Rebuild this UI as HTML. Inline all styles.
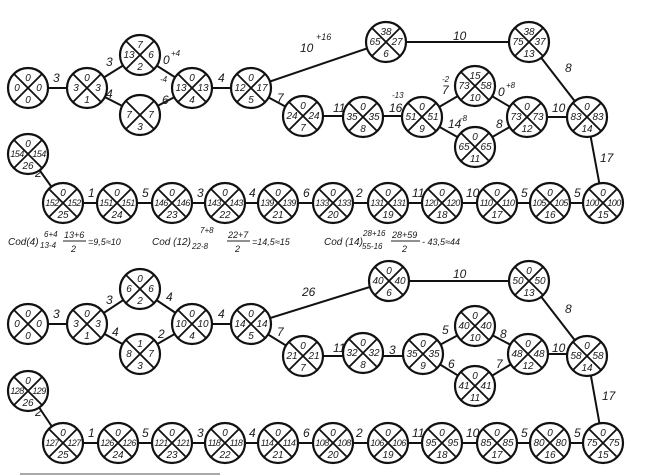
<!DOCTYPE html>
<html><head><meta charset="utf-8"><style>
html,body{margin:0;padding:0;background:#fff;}
svg{display:block;}
text{font-family:"Liberation Sans",sans-serif;font-style:italic;fill:#1a1a1a;}
.n text{font-size:10px;text-anchor:middle;}
.n text.s{font-size:9px;letter-spacing:-0.6px;}
.e{font-size:12px;}
.l{stroke:#111;stroke-width:2;fill:none;}
</style></head><body>
<svg width="654" height="476" viewBox="0 0 654 476" xmlns="http://www.w3.org/2000/svg">
<defs>
<g id="c"><circle r="20" fill="#fff" stroke="#111" stroke-width="2.2"/><path d="M-14,-14L14,14M14,-14L-14,14" stroke="#111" stroke-width="1.8"/></g>
</defs>
<rect width="654" height="476" fill="#fff"/>
<g class="l">
<path d="M28,88H87M87,88L140,55L192,88M87,88L140,115L192,88M192,88H251M251,88L386,42H529L587,117M251,88L303,116M303,116H363H422M422,117L475,86L527,117M422,117L475,147L527,117M527,117H587L603,203"/>
<path d="M28,154L63,203H603"/>
<path d="M28,324H87M87,324L140,289L192,324M87,324L140,354L192,324M192,324H251M251,324L389,281H529L587,356M251,324L303,356M303,356H363H423M423,354L475,326L528,354M423,354L475,386L528,354M528,354H587L603,443"/>
<path d="M28,391L63,443H603"/>
</g>
<line x1="20" y1="474" x2="220" y2="474" stroke="#aaa" stroke-width="2"/>
<g class="e">
<text x="53" y="82">3</text><text x="106" y="66">3</text><text x="106" y="98">4</text>
<text x="163" y="64">0</text><text x="171" y="56" font-size="8">+4</text><text x="162" y="104">6</text><text x="160" y="82" font-size="8">-4</text>
<text x="218" y="82">4</text><text x="277" y="102">7</text>
<text x="300" y="52">10</text><text x="316" y="40" font-size="9">+16</text>
<text x="453" y="40">10</text><text x="333" y="112">11</text><text x="389" y="112">16</text><text x="392" y="98" font-size="8">-13</text>
<text x="442" y="94">7</text><text x="442" y="82" font-size="8">-2</text><text x="448" y="128">14</text><text x="460" y="121" font-size="8">-8</text>
<text x="498" y="96">0</text><text x="506" y="88" font-size="8">+8</text><text x="496" y="128">8</text>
<text x="552" y="112">10</text><text x="565" y="72">8</text><text x="600" y="162">17</text>
<text x="35" y="177">2</text>
<text x="88" y="197">1</text><text x="142" y="197">5</text><text x="197" y="197">3</text><text x="249" y="197">4</text><text x="303" y="197">6</text><text x="356" y="197">2</text><text x="412" y="197">11</text><text x="466" y="197">10</text><text x="521" y="197">5</text><text x="574" y="197">5</text>
</g>
<g class="e">
<text x="53" y="318">3</text><text x="106" y="304">3</text><text x="112" y="336">4</text>
<text x="166" y="301">4</text><text x="158" y="338">2</text><text x="218" y="318">4</text>
<text x="302" y="296">26</text><text x="277" y="336">7</text><text x="453" y="278">10</text>
<text x="333" y="352">11</text><text x="389" y="354">3</text><text x="442" y="334">5</text><text x="448" y="368">6</text>
<text x="500" y="338">8</text><text x="496" y="368">7</text><text x="552" y="352">10</text><text x="565" y="313">8</text><text x="602" y="400">17</text>
<text x="35" y="416">2</text>
<text x="88" y="437">1</text><text x="142" y="437">5</text><text x="197" y="437">3</text><text x="249" y="437">4</text><text x="303" y="437">6</text><text x="356" y="437">2</text><text x="412" y="437">11</text><text x="466" y="437">10</text><text x="521" y="437">5</text><text x="574" y="437">5</text>
</g>
<g style="font-size:10px">
<text x="8" y="245">Cod(4)</text><text x="44" y="237" font-size="8">6+4</text><text x="40" y="248" font-size="8">13-4</text>
<text x="64" y="238" font-size="9">13+6</text><line x1="63" y1="241" x2="86" y2="241" stroke="#222"/><text x="71" y="252" font-size="9">2</text><text x="88" y="245" font-size="9">=9,5≈10</text>
<text x="152" y="245">Cod (12)</text><text x="200" y="233" font-size="8">7+8</text><text x="192" y="249" font-size="8">22-8</text>
<text x="228" y="238" font-size="9">22+7</text><line x1="227" y1="241" x2="250" y2="241" stroke="#222"/><text x="235" y="252" font-size="9">2</text><text x="252" y="245" font-size="9">=14,5≈15</text>
<text x="324" y="245">Cod (14)</text><text x="363" y="236" font-size="8">28+16</text><text x="362" y="249" font-size="8">55-16</text>
<text x="392" y="238" font-size="9">28+59</text><line x1="391" y1="241" x2="420" y2="241" stroke="#222"/><text x="402" y="252" font-size="9">2</text><text x="422" y="245" font-size="9">- 43,5≈44</text>
</g>
<g class="n">
<g transform="translate(28,88)"><use href="#c"/><text y="-7">0</text><text x="-11" y="3">0</text><text x="11" y="3">0</text><text y="15">0</text></g>
<g transform="translate(87,88)"><use href="#c"/><text y="-7">0</text><text x="-11" y="3">3</text><text x="11" y="3">3</text><text y="15">1</text></g>
<g transform="translate(140,55)"><use href="#c"/><text y="-7">7</text><text x="-11" y="3">13</text><text x="11" y="3">6</text><text y="15">2</text></g>
<g transform="translate(140,115)"><use href="#c"/><text x="-11" y="3">7</text><text x="11" y="3">7</text><text y="15">3</text></g>
<g transform="translate(192,88)"><use href="#c"/><text y="-7">0</text><text x="-11" y="3">13</text><text x="11" y="3">13</text><text y="15">4</text></g>
<g transform="translate(251,88)"><use href="#c"/><text y="-7">0</text><text x="-11" y="3">12</text><text x="11" y="3">17</text><text y="15">5</text></g>
<g transform="translate(303,116)"><use href="#c"/><text y="-7">0</text><text x="-11" y="3">24</text><text x="11" y="3">24</text><text y="15">7</text></g>
<g transform="translate(386,42)"><use href="#c"/><text y="-7">38</text><text x="-11" y="3">65</text><text x="11" y="3">27</text><text y="15">6</text></g>
<g transform="translate(529,42)"><use href="#c"/><text y="-7">38</text><text x="-11" y="3">75</text><text x="11" y="3">37</text><text y="15">13</text></g>
<g transform="translate(363,117)"><use href="#c"/><text y="-7">0</text><text x="-11" y="3">35</text><text x="11" y="3">35</text><text y="15">8</text></g>
<g transform="translate(422,117)"><use href="#c"/><text y="-7">0</text><text x="-11" y="3">51</text><text x="11" y="3">51</text><text y="15">9</text></g>
<g transform="translate(475,86)"><use href="#c"/><text y="-7">15</text><text x="-11" y="3">73</text><text x="11" y="3">58</text><text y="15">10</text></g>
<g transform="translate(475,147)"><use href="#c"/><text y="-7">0</text><text x="-11" y="3">65</text><text x="11" y="3">65</text><text y="15">11</text></g>
<g transform="translate(527,117)"><use href="#c"/><text y="-7">0</text><text x="-11" y="3">73</text><text x="11" y="3">73</text><text y="15">12</text></g>
<g transform="translate(587,117)"><use href="#c"/><text y="-7">0</text><text x="-11" y="3">83</text><text x="11" y="3">83</text><text y="15">14</text></g>
<g transform="translate(28,154)"><use href="#c"/><text y="-7">0</text><text class="s" x="-11" y="3">154</text><text class="s" x="11" y="3">154</text><text y="15">26</text></g>
<g transform="translate(63,203)"><use href="#c"/><text y="-7">0</text><text class="s" x="-11" y="3">152</text><text class="s" x="11" y="3">152</text><text y="15">25</text></g>
<g transform="translate(117,203)"><use href="#c"/><text y="-7">0</text><text class="s" x="-11" y="3">151</text><text class="s" x="11" y="3">151</text><text y="15">24</text></g>
<g transform="translate(172,203)"><use href="#c"/><text y="-7">0</text><text class="s" x="-11" y="3">146</text><text class="s" x="11" y="3">146</text><text y="15">23</text></g>
<g transform="translate(225,203)"><use href="#c"/><text y="-7">0</text><text class="s" x="-11" y="3">143</text><text class="s" x="11" y="3">143</text><text y="15">22</text></g>
<g transform="translate(278,203)"><use href="#c"/><text y="-7">0</text><text class="s" x="-11" y="3">139</text><text class="s" x="11" y="3">139</text><text y="15">21</text></g>
<g transform="translate(333,203)"><use href="#c"/><text y="-7">0</text><text class="s" x="-11" y="3">133</text><text class="s" x="11" y="3">133</text><text y="15">20</text></g>
<g transform="translate(388,203)"><use href="#c"/><text y="-7">0</text><text class="s" x="-11" y="3">131</text><text class="s" x="11" y="3">131</text><text y="15">19</text></g>
<g transform="translate(442,203)"><use href="#c"/><text y="-7">0</text><text class="s" x="-11" y="3">120</text><text class="s" x="11" y="3">120</text><text y="15">18</text></g>
<g transform="translate(497,203)"><use href="#c"/><text y="-7">0</text><text class="s" x="-11" y="3">110</text><text class="s" x="11" y="3">110</text><text y="15">17</text></g>
<g transform="translate(550,203)"><use href="#c"/><text y="-7">0</text><text class="s" x="-11" y="3">105</text><text class="s" x="11" y="3">105</text><text y="15">16</text></g>
<g transform="translate(603,203)"><use href="#c"/><text y="-7">0</text><text class="s" x="-11" y="3">100</text><text class="s" x="11" y="3">100</text><text y="15">15</text></g>

<g transform="translate(28,324)"><use href="#c"/><text y="-7">0</text><text x="-11" y="3">0</text><text x="11" y="3">0</text><text y="15">0</text></g>
<g transform="translate(87,324)"><use href="#c"/><text y="-7">0</text><text x="-11" y="3">3</text><text x="11" y="3">3</text><text y="15">1</text></g>
<g transform="translate(140,289)"><use href="#c"/><text y="-7">0</text><text x="-11" y="3">6</text><text x="11" y="3">6</text><text y="15">2</text></g>
<g transform="translate(140,354)"><use href="#c"/><text y="-7">1</text><text x="-11" y="3">8</text><text x="11" y="3">7</text><text y="15">3</text></g>
<g transform="translate(192,324)"><use href="#c"/><text y="-7">0</text><text x="-11" y="3">10</text><text x="11" y="3">10</text><text y="15">4</text></g>
<g transform="translate(251,324)"><use href="#c"/><text y="-7">0</text><text x="-11" y="3">14</text><text x="11" y="3">14</text><text y="15">5</text></g>
<g transform="translate(303,356)"><use href="#c"/><text y="-7">0</text><text x="-11" y="3">21</text><text x="11" y="3">21</text><text y="15">7</text></g>
<g transform="translate(389,281)"><use href="#c"/><text y="-7">0</text><text x="-11" y="3">40</text><text x="11" y="3">40</text><text y="15">6</text></g>
<g transform="translate(529,281)"><use href="#c"/><text y="-7">0</text><text x="-11" y="3">50</text><text x="11" y="3">50</text><text y="15">13</text></g>
<g transform="translate(363,353)"><use href="#c"/><text y="-7">0</text><text x="-11" y="3">32</text><text x="11" y="3">32</text><text y="15">8</text></g>
<g transform="translate(423,354)"><use href="#c"/><text y="-7">0</text><text x="-11" y="3">35</text><text x="11" y="3">35</text><text y="15">9</text></g>
<g transform="translate(475,326)"><use href="#c"/><text y="-7">0</text><text x="-11" y="3">40</text><text x="11" y="3">40</text><text y="15">10</text></g>
<g transform="translate(475,386)"><use href="#c"/><text y="-7">0</text><text x="-11" y="3">41</text><text x="11" y="3">41</text><text y="15">11</text></g>
<g transform="translate(528,354)"><use href="#c"/><text y="-7">0</text><text x="-11" y="3">48</text><text x="11" y="3">48</text><text y="15">12</text></g>
<g transform="translate(587,356)"><use href="#c"/><text y="-7">0</text><text x="-11" y="3">58</text><text x="11" y="3">58</text><text y="15">14</text></g>
<g transform="translate(28,391)"><use href="#c"/><text y="-7">0</text><text class="s" x="-11" y="3">128</text><text class="s" x="11" y="3">129</text><text y="15">26</text></g>
<g transform="translate(63,443)"><use href="#c"/><text y="-7">0</text><text class="s" x="-11" y="3">127</text><text class="s" x="11" y="3">127</text><text y="15">25</text></g>
<g transform="translate(118,443)"><use href="#c"/><text y="-7">0</text><text class="s" x="-11" y="3">126</text><text class="s" x="11" y="3">126</text><text y="15">24</text></g>
<g transform="translate(172,443)"><use href="#c"/><text y="-7">0</text><text class="s" x="-11" y="3">121</text><text class="s" x="11" y="3">121</text><text y="15">23</text></g>
<g transform="translate(225,443)"><use href="#c"/><text y="-7">0</text><text class="s" x="-11" y="3">118</text><text class="s" x="11" y="3">118</text><text y="15">22</text></g>
<g transform="translate(278,443)"><use href="#c"/><text y="-7">0</text><text class="s" x="-11" y="3">114</text><text class="s" x="11" y="3">114</text><text y="15">21</text></g>
<g transform="translate(333,443)"><use href="#c"/><text y="-7">0</text><text class="s" x="-11" y="3">108</text><text class="s" x="11" y="3">108</text><text y="15">20</text></g>
<g transform="translate(388,443)"><use href="#c"/><text y="-7">0</text><text class="s" x="-11" y="3">106</text><text class="s" x="11" y="3">106</text><text y="15">19</text></g>
<g transform="translate(442,443)"><use href="#c"/><text y="-7">0</text><text x="-11" y="3">95</text><text x="11" y="3">95</text><text y="15">18</text></g>
<g transform="translate(497,443)"><use href="#c"/><text y="-7">0</text><text x="-11" y="3">85</text><text x="11" y="3">85</text><text y="15">17</text></g>
<g transform="translate(550,443)"><use href="#c"/><text y="-7">0</text><text x="-11" y="3">80</text><text x="11" y="3">80</text><text y="15">16</text></g>
<g transform="translate(603,443)"><use href="#c"/><text y="-7">0</text><text x="-11" y="3">75</text><text x="11" y="3">75</text><text y="15">15</text></g>
</g>
</svg>
</body></html>
